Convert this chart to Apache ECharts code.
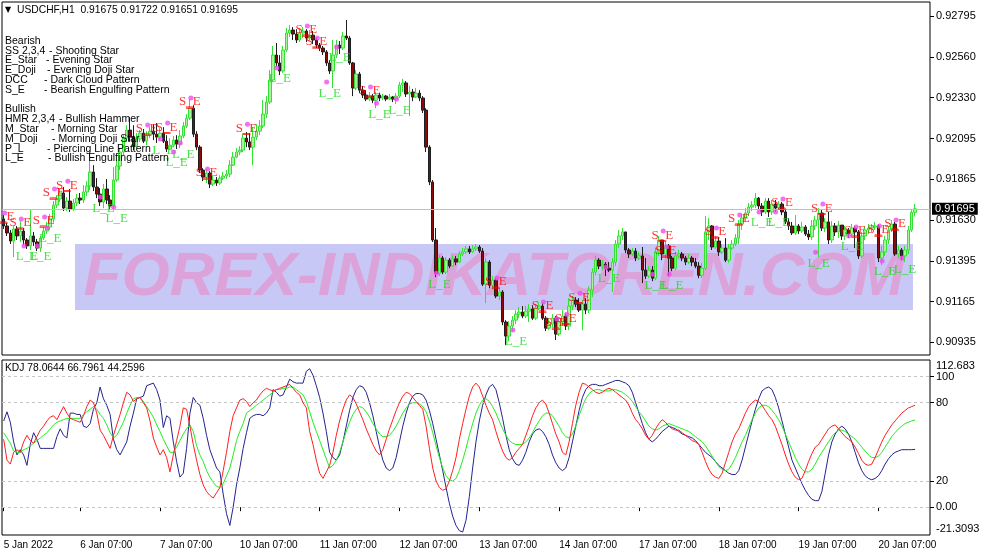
<!DOCTYPE html>
<html><head><meta charset="utf-8">
<script src="https://cdn.jsdelivr.net/npm/echarts@6/dist/echarts.min.js"></script>
<style>html,body{margin:0;padding:0;background:#fff}#c{width:987px;height:555px}</style>
</head><body><div id="c"></div>
<script>
// ---------- DATA ----------
const symbolName = 'USDCHF,H1';
const headerValues = [0.91675, 0.91722, 0.91651, 0.91695];
const lastPrice = 0.91695;

const opens = [0.91637,0.91597,0.91557,0.91511,0.91580,0.91540,0.91568,0.91517,0.91483,0.91540,
0.91506,0.91471,0.91528,0.91568,0.91591,0.91637,0.91716,0.91751,0.91785,0.91699,
0.91739,0.91694,0.91728,0.91756,0.91745,0.91791,0.91825,0.91905,0.91819,0.91779,
0.91734,0.91808,0.91745,0.91711,0.91859,0.91939,0.92019,0.92098,0.92144,0.92104,
0.92053,0.92093,0.92127,0.92081,0.92115,0.92138,0.92121,0.92104,0.92127,0.92081,
0.92036,0.92058,0.92087,0.92064,0.92110,0.92167,0.92212,0.92269,0.92121,0.92047,
0.91916,0.91876,0.91899,0.91836,0.91859,0.91842,0.91870,0.91882,0.91893,0.91944,
0.91990,0.92019,0.92030,0.92098,0.92076,0.92047,0.92104,0.92138,0.92167,0.92235,
0.92304,0.92430,0.92572,0.92527,0.92481,0.92601,0.92698,0.92715,0.92692,0.92658,
0.92698,0.92709,0.92669,0.92686,0.92658,0.92629,0.92612,0.92590,0.92527,0.92481,
0.92572,0.92629,0.92612,0.92681,0.92669,0.92527,0.92384,0.92464,0.92372,0.92344,
0.92321,0.92338,0.92315,0.92344,0.92327,0.92338,0.92321,0.92333,0.92321,0.92338,
0.92401,0.92413,0.92350,0.92361,0.92333,0.92355,0.92327,0.92258,0.92047,0.91848,
0.91517,0.91328,0.91414,0.91334,0.91402,0.91368,0.91409,0.91391,0.91437,0.91449,
0.91466,0.91449,0.91466,0.91477,0.91454,0.91265,0.91391,0.91259,0.91288,0.91197,
0.91220,0.91049,0.90969,0.91026,0.91060,0.91094,0.91106,0.91083,0.91111,0.91123,
0.91071,0.91128,0.91140,0.91071,0.91014,0.91037,0.91071,0.90980,0.91049,0.91083,
0.91026,0.91140,0.91174,0.91151,0.91117,0.91151,0.91117,0.91231,0.91334,0.91402,
0.91368,0.91379,0.91356,0.91345,0.91391,0.91494,0.91540,0.91563,0.91460,0.91437,
0.91454,0.91414,0.91426,0.91345,0.91311,0.91345,0.91299,0.91449,0.91517,0.91437,
0.91483,0.91414,0.91356,0.91426,0.91437,0.91414,0.91391,0.91414,0.91391,0.91368,
0.91316,0.91356,0.91563,0.91597,0.91477,0.91511,0.91449,0.91471,0.91402,0.91471,
0.91494,0.91528,0.91608,0.91642,0.91671,0.91705,0.91716,0.91756,0.91711,0.91677,
0.91739,0.91677,0.91722,0.91699,0.91722,0.91677,0.91620,0.91597,0.91557,0.91597,
0.91568,0.91591,0.91551,0.91534,0.91597,0.91631,0.91671,0.91585,0.91620,0.91517,
0.91597,0.91563,0.91602,0.91540,0.91574,0.91551,0.91585,0.91563,0.91426,0.91540,
0.91574,0.91585,0.91591,0.91597,0.91414,0.91449,0.91517,0.91574,0.91608,0.91437,
0.91460,0.91426,0.91460,0.91574,0.91675];

const closes = [0.91597,0.91557,0.91511,0.91580,0.91540,0.91568,0.91517,0.91483,0.91540,0.91506,
0.91471,0.91528,0.91568,0.91591,0.91637,0.91716,0.91751,0.91785,0.91699,0.91739,
0.91694,0.91728,0.91756,0.91745,0.91791,0.91825,0.91905,0.91819,0.91779,0.91734,
0.91808,0.91745,0.91711,0.91859,0.91939,0.92019,0.92098,0.92144,0.92104,0.92053,
0.92093,0.92127,0.92081,0.92115,0.92138,0.92121,0.92104,0.92127,0.92081,0.92036,
0.92058,0.92087,0.92064,0.92110,0.92167,0.92212,0.92269,0.92121,0.92047,0.91916,
0.91876,0.91899,0.91836,0.91859,0.91842,0.91870,0.91882,0.91893,0.91944,0.91990,
0.92019,0.92030,0.92098,0.92076,0.92047,0.92104,0.92138,0.92167,0.92235,0.92304,
0.92430,0.92572,0.92527,0.92481,0.92601,0.92698,0.92715,0.92692,0.92658,0.92698,
0.92709,0.92669,0.92686,0.92658,0.92629,0.92612,0.92590,0.92527,0.92481,0.92572,
0.92629,0.92612,0.92681,0.92669,0.92527,0.92384,0.92464,0.92372,0.92344,0.92321,
0.92338,0.92315,0.92344,0.92327,0.92338,0.92321,0.92333,0.92321,0.92338,0.92401,
0.92413,0.92350,0.92361,0.92333,0.92355,0.92327,0.92258,0.92047,0.91848,0.91517,
0.91328,0.91414,0.91334,0.91402,0.91368,0.91409,0.91391,0.91437,0.91449,0.91466,
0.91449,0.91466,0.91477,0.91454,0.91265,0.91391,0.91259,0.91288,0.91197,0.91220,
0.91049,0.90969,0.91026,0.91060,0.91094,0.91106,0.91083,0.91111,0.91123,0.91071,
0.91128,0.91140,0.91071,0.91014,0.91037,0.91071,0.90980,0.91049,0.91083,0.91026,
0.91140,0.91174,0.91151,0.91117,0.91151,0.91117,0.91231,0.91334,0.91402,0.91368,
0.91379,0.91356,0.91345,0.91391,0.91494,0.91540,0.91563,0.91460,0.91437,0.91454,
0.91414,0.91426,0.91345,0.91311,0.91345,0.91299,0.91449,0.91517,0.91437,0.91483,
0.91414,0.91356,0.91426,0.91437,0.91414,0.91391,0.91414,0.91391,0.91368,0.91316,
0.91356,0.91563,0.91597,0.91477,0.91511,0.91449,0.91471,0.91402,0.91471,0.91494,
0.91528,0.91608,0.91642,0.91671,0.91705,0.91716,0.91756,0.91711,0.91677,0.91739,
0.91677,0.91722,0.91699,0.91722,0.91677,0.91620,0.91597,0.91557,0.91597,0.91568,
0.91591,0.91551,0.91534,0.91597,0.91631,0.91671,0.91585,0.91620,0.91517,0.91597,
0.91563,0.91602,0.91540,0.91574,0.91551,0.91585,0.91563,0.91426,0.91540,0.91574,
0.91585,0.91591,0.91597,0.91414,0.91449,0.91517,0.91574,0.91608,0.91437,0.91460,
0.91426,0.91460,0.91574,0.91675,0.91695];

const highs = [0.91659,0.91614,0.91574,0.91597,0.91597,0.91625,0.91585,0.91528,0.91688,0.91563,
0.91523,0.91540,0.91591,0.91620,0.91665,0.91739,0.91773,0.91808,0.91819,0.91762,
0.91808,0.91751,0.91779,0.91785,0.91830,0.91853,0.92030,0.91944,0.91870,0.91813,
0.91836,0.91865,0.91773,0.91933,0.91973,0.92041,0.92115,0.92172,0.92218,0.92172,
0.92127,0.92144,0.92150,0.92138,0.92161,0.92178,0.92184,0.92155,0.92161,0.92115,
0.92098,0.92110,0.92115,0.92144,0.92190,0.92235,0.92321,0.92286,0.92138,0.92058,
0.91927,0.91922,0.91910,0.91882,0.91876,0.91887,0.91905,0.91916,0.91973,0.92019,
0.92041,0.92053,0.92121,0.92133,0.92127,0.92161,0.92178,0.92201,0.92315,0.92338,
0.92487,0.92624,0.92641,0.92572,0.92624,0.92726,0.92743,0.92732,0.92720,0.92726,
0.92732,0.92720,0.92715,0.92709,0.92669,0.92641,0.92624,0.92601,0.92544,0.92658,
0.92658,0.92652,0.92704,0.92772,0.92681,0.92533,0.92487,0.92476,0.92396,0.92372,
0.92361,0.92350,0.92361,0.92355,0.92350,0.92344,0.92350,0.92338,0.92355,0.92419,
0.92436,0.92424,0.92396,0.92379,0.92384,0.92372,0.92338,0.92269,0.92058,0.91859,
0.91585,0.91431,0.91426,0.91420,0.91414,0.91431,0.91426,0.91454,0.91471,0.91483,
0.91483,0.91488,0.91494,0.91488,0.91471,0.91414,0.91402,0.91311,0.91299,0.91242,
0.91231,0.91060,0.91054,0.91083,0.91117,0.91134,0.91140,0.91140,0.91151,0.91145,
0.91151,0.91163,0.91157,0.91083,0.91071,0.91094,0.91083,0.91077,0.91117,0.91100,
0.91185,0.91197,0.91191,0.91185,0.91174,0.91185,0.91254,0.91356,0.91426,0.91414,
0.91402,0.91391,0.91391,0.91414,0.91517,0.91574,0.91585,0.91563,0.91471,0.91471,
0.91471,0.91449,0.91477,0.91414,0.91368,0.91368,0.91471,0.91540,0.91517,0.91506,
0.91494,0.91426,0.91449,0.91460,0.91449,0.91426,0.91437,0.91426,0.91414,0.91391,
0.91385,0.91654,0.91642,0.91602,0.91540,0.91534,0.91494,0.91528,0.91494,0.91517,
0.91551,0.91631,0.91665,0.91699,0.91728,0.91739,0.91785,0.91762,0.91728,0.91756,
0.91756,0.91745,0.91745,0.91739,0.91734,0.91688,0.91642,0.91620,0.91659,0.91608,
0.91620,0.91602,0.91574,0.91631,0.91654,0.91699,0.91688,0.91642,0.91677,0.91625,
0.91614,0.91625,0.91602,0.91597,0.91585,0.91608,0.91597,0.91574,0.91563,0.91597,
0.91608,0.91608,0.91620,0.91608,0.91483,0.91540,0.91597,0.91631,0.91620,0.91483,
0.91471,0.91483,0.91597,0.91688,0.91722];

const lows = [0.91580,0.91540,0.91494,0.91420,0.91517,0.91506,0.91488,0.91466,0.91460,0.91483,
0.91454,0.91449,0.91517,0.91551,0.91574,0.91620,0.91699,0.91734,0.91682,0.91682,
0.91677,0.91682,0.91711,0.91722,0.91728,0.91768,0.91802,0.91796,0.91756,0.91711,
0.91699,0.91722,0.91688,0.91688,0.91848,0.91916,0.92001,0.92076,0.92081,0.92030,
0.92041,0.92076,0.92070,0.92058,0.92098,0.92087,0.92070,0.92087,0.92070,0.92019,
0.92030,0.92047,0.92036,0.92041,0.92098,0.92155,0.92201,0.92104,0.92030,0.91899,
0.91853,0.91842,0.91813,0.91825,0.91825,0.91830,0.91859,0.91865,0.91876,0.91939,
0.91984,0.92001,0.92019,0.92047,0.92030,0.91944,0.92087,0.92115,0.92155,0.92212,
0.92292,0.92419,0.92504,0.92458,0.92470,0.92590,0.92675,0.92658,0.92641,0.92647,
0.92669,0.92647,0.92658,0.92635,0.92612,0.92595,0.92572,0.92510,0.92464,0.92384,
0.92555,0.92578,0.92601,0.92658,0.92516,0.92338,0.92372,0.92355,0.92327,0.92309,
0.92309,0.92298,0.92269,0.92309,0.92315,0.92309,0.92315,0.92304,0.92292,0.92327,
0.92361,0.92333,0.92224,0.92309,0.92327,0.92309,0.92241,0.92019,0.91830,0.91506,
0.91305,0.91311,0.91322,0.91322,0.91356,0.91368,0.91373,0.91385,0.91426,0.91437,
0.91437,0.91443,0.91454,0.91443,0.91254,0.91157,0.91242,0.91231,0.91185,0.91174,
0.91031,0.90917,0.90940,0.90997,0.91037,0.91071,0.91071,0.91071,0.91049,0.91060,
0.91060,0.91117,0.91060,0.90997,0.91003,0.91020,0.90946,0.90969,0.91026,0.91003,
0.91003,0.91117,0.91134,0.91106,0.91003,0.91094,0.91100,0.91191,0.91316,0.91351,
0.91345,0.91311,0.91334,0.91220,0.91368,0.91471,0.91517,0.91443,0.91414,0.91426,
0.91396,0.91402,0.91271,0.91294,0.91299,0.91282,0.91288,0.91426,0.91402,0.91414,
0.91311,0.91339,0.91345,0.91414,0.91396,0.91373,0.91379,0.91368,0.91356,0.91299,
0.91299,0.91345,0.91517,0.91460,0.91466,0.91426,0.91437,0.91391,0.91385,0.91460,
0.91483,0.91494,0.91574,0.91620,0.91654,0.91682,0.91699,0.91694,0.91654,0.91665,
0.91648,0.91659,0.91677,0.91688,0.91659,0.91608,0.91574,0.91545,0.91545,0.91551,
0.91557,0.91540,0.91517,0.91517,0.91574,0.91420,0.91568,0.91563,0.91494,0.91500,
0.91540,0.91528,0.91517,0.91517,0.91528,0.91540,0.91471,0.91409,0.91414,0.91517,
0.91551,0.91563,0.91574,0.91391,0.91373,0.91426,0.91494,0.91563,0.91426,0.91414,
0.91402,0.91391,0.91437,0.91563,0.91651];

// KDJ indicator lines (red, green, blue)
const kdjK = [52,36,33,42,44,42,50,55,51,49,54,59,62,66,69,70,67,72,77,72,
68,67,66,65,70,77,82,80,72,59,55,50,45,55,63,71,80,88,86,81,
83,84,80,76,66,53,46,40,44,38,27,40,51,62,76,75,62,48,36,25,
17,12,9,7,11,15,28,42,58,70,76,82,83,81,77,80,82,86,89,91,
90,89,90,91,92,93,94,91,88,86,80,76,58,48,36,26,22,27,32,
42,55,66,75,82,86,84,79,73,67,
60,54,48,43,40,44,52,60,67,74,
80,85,88,87,84,81,78,75,62,45,
30,20,15,13,14,20,28,38,52,64,
75,85,92,95,92,85,78,72,67,58,
50,43,38,36,38,42,45,48,55,62,
70,76,80,82,79,72,64,56,50,42,
40,50,64,78,88,95,94,92,90,88,
87,88,90,91,90,88,86,84,82,78,
72,67,64,60,55,52,55,60,64,67,
65,62,60,59,59,57,55,53,51,50,
48,42,35,29,25,23,22,26,34,42,
50,56,60,66,72,77,80,82,81,78,
74,70,67,62,55,48,40,33,27,23,
21,22,28,35,41,46,48,52,56,60,
62,63,60,57,54,52,50,46,41,36,
33,32,33,38,44,50,55,59,63,66,
69,72,74,76,77,78.0644];
const kdjD = [57,53,49,43,42,42,44,45,47,49,51,53,55,57,60,63,65,66,67,68,
68,68,68,68,71,73,75,77,75,71,68,63,57,53,55,60,65,72,78,83,
84,84,81,77,73,69,63,58,52,47,42,42,46,51,56,60,63,58,47,40,
35,28,23,19,16,15,18,24,30,40,51,58,64,72,74,76,78,80,82,84,
86,88,90,90,91,91,92,92,90,88,86,81,73,65,58,51,44,37,30,
32,36,42,50,58,65,71,75,77,76,
73,69,64,60,56,54,54,55,58,62,
67,72,76,79,80,80,79,77,73,66,
57,47,38,30,24,21,20,22,28,36,
45,55,64,72,78,82,83,81,77,72,
66,60,55,51,49,48,48,48,50,53,
57,62,66,70,72,72,70,66,62,57,
54,53,56,62,70,77,83,87,89,90,
90,89,89,89,90,90,89,88,86,84,
81,77,73,70,66,62,60,59,60,62,
63,64,63,62,61,60,59,58,56,54,
52,50,47,43,39,35,31,29,28,29,
33,38,44,50,55,61,67,72,76,78,
78,77,74,71,67,62,56,50,44,38,
33,29,27,27,29,33,38,42,46,50,
54,57,59,59,58,56,54,52,49,46,
43,40,38,38,39,42,46,50,54,57,
60,62,64,65,66,66.7961];
const kdjJ = [66,73,65,50,40,44,40,32,48,57,52,45,45,45,45,45,54,60,55,53,
72,72,71,71,62,61,64,75,80,92,83,78,71,52,44,40,45,50,62,72,
83,84,85,93,94,95,90,82,61,70,68,50,35,23,26,45,72,84,80,78,
68,55,44,37,30,27,10,-5,-14,0,17,30,45,57,68,70,71,71,70,72,
76,90,88,85,86,92,98,96,95,95,95,104,106,101,93,84,72,58,42,
38,36,40,50,62,74,84,90,93,92,
88,80,70,58,46,36,30,28,30,38,
50,62,72,80,85,87,87,86,82,74,
64,52,40,28,15,3,-7,-14,-18,-19,
-10,8,30,50,66,78,86,92,94,90,
80,68,55,44,37,33,32,36,42,50,
56,59,60,58,54,48,40,34,30,28,
30,38,50,62,74,84,90,93,94,94,
93,93,94,95,96,97,97,96,95,93,
88,80,72,64,57,52,50,52,55,58,
60,62,61,60,58,56,55,54,53,51,
48,45,42,40,38,35,32,30,28,26,
25,25,28,36,46,56,66,75,83,89,
91,92,90,84,76,66,56,46,36,30,
24,18,13,9,6,5,5,12,26,40,
50,56,60,62,60,56,50,42,34,28,
24,22,21,22,24,28,33,37,40,42,
43,44,44,44,44,44.2596];
const kdjHeader = ['78.0644', '66.7961', '44.2596'];

// pattern markers: [bar index, price]
const bearishMarks = [[0,0.91648],[5,0.91614],[12,0.91625],[15,0.91785],[19,0.91830],[43,0.92150],[49,0.92161],[56,0.92304],[61,0.91899],[73,0.92155],[91,0.92715],[94,0.92647],[110,0.92367],[148,0.91277],[162,0.91140],[166,0.91043],[169,0.91071],[173,0.91191],[198,0.91545],[199,0.91454],[214,0.91563],[221,0.91637],[234,0.91728],[246,0.91699],[256,0.91568],[263,0.91574],[268,0.91608]];
const bullishMarks = [[7,0.91420],[11,0.91420],[14,0.91523],[30,0.91699],[34,0.91642],[48,0.92030],[52,0.91956],[54,0.92007],[83,0.92436],[98,0.92355],[101,0.92555],[113,0.92235],[119,0.92258],[131,0.91265],[154,0.90940],[182,0.91299],[196,0.91259],[201,0.91259],[228,0.91614],[233,0.91614],[245,0.91385],[255,0.91477],[265,0.91334],[271,0.91351]];

// axes
const priceTicks = [0.92795,0.92560,0.92330,0.92095,0.91865,0.91630,0.91395,0.91165,0.90935];
const priceMin = 0.908608, priceMax = 0.928749;
const kdjLevels = [100, 80, 20, 0];
const kdjMin = -21.3093, kdjMax = 112.683;
const timeTickBars = [0,23,47,71,95,119,143,167,191,215,239,263];
const timeTickLabels = ['5 Jan 2022','6 Jan 07:00','7 Jan 07:00','10 Jan 07:00','11 Jan 07:00','12 Jan 07:00','13 Jan 07:00','14 Jan 07:00','17 Jan 07:00','18 Jan 07:00','19 Jan 07:00','20 Jan 07:00'];
const totalSlots = 279;

const legendNames = ['Bearish','SS 2,3,4','E_Star','E_Doji','DCC','S_E','','Bullish','HMR 2,3,4','M_Star','M_Doji','P_L','L_E'];
const legendDescs = ['','- Shooting Star','- Evening Star','- Evening Doji Star','- Dark Cloud Pattern','- Bearish Engulfing Pattern','','','- Bullish Hammer','- Morning Star','- Morning Doji Star','- Piercing Line Pattern','- Bullish Engulfing Pattern'];
const legendDescX = [0,49,46,47,44,44,0,0,59,51,52,47,48];

// ---------- BUILD ----------
const FONT = '"Liberation Sans", Arial, sans-serif';
const cats = [];
for (let i = 0; i < totalSlots; i++) cats.push(String(i));
const candleData = opens.map((o, i) => [o, closes[i], lows[i], highs[i]]);
const tickMap = {};
timeTickBars.forEach((b, i) => tickMap[b] = timeTickLabels[i]);
const isTick = (i) => tickMap[i] !== undefined;

const graphics = [
  {id:'wmRect', type:'rect', z:1, silent:true, shape:{x:75,y:244,width:838,height:66}, style:{fill:'#c8c8f6'}},
  {id:'wmText', type:'text', z:1, silent:true, x:494, y:278, style:{text:'FOREX-INDIKATOREN.COM', font:'italic bold 62px "Liberation Sans", Arial', fill:'#dba3d9', align:'center', verticalAlign:'middle'}},
  {id:'tri', type:'text', z:20, x:5, y:10, style:{text:'\u25BC', font:'8px "DejaVu Sans"', fill:'#000', verticalAlign:'middle'}},
  {id:'hdr', type:'text', z:20, x:17, y:10, style:{text:symbolName + '  ' + headerValues.map(v => v.toFixed(5)).join(' '), font:'10.3px ' + FONT, fill:'#000', verticalAlign:'middle'}},
  {id:'kdjHdr', type:'text', z:20, x:5, y:368, style:{text:'KDJ ' + kdjHeader.join(' '), font:'10.3px ' + FONT, fill:'#000', verticalAlign:'middle'}}
];
legendNames.forEach((n, k) => {
  const y = 41 + k * 9.8;
  if (n) graphics.push({id:'ln' + k, type:'text', z:20, x:5, y:y, style:{text:n, font:'10.5px ' + FONT, fill:'#000', verticalAlign:'middle'}});
  if (legendDescs[k]) graphics.push({id:'ld' + k, type:'text', z:20, x:legendDescX[k], y:y, style:{text:legendDescs[k], font:'10.5px ' + FONT, fill:'#000', verticalAlign:'middle'}});
});

const near = (a, b) => Math.abs(a - b) < 1e-6;
const option = {
  animation: false,
  backgroundColor: '#fff',
  grid: [
    {left:2, width:928, top:2, height:353, show:true, borderColor:'#000', borderWidth:1, backgroundColor:'transparent'},
    {left:2, width:928, top:360, height:175, show:true, borderColor:'#000', borderWidth:1, backgroundColor:'transparent'}
  ],
  xAxis: [
    {type:'category', gridIndex:0, data:cats, boundaryGap:true, show:false},
    {type:'category', gridIndex:1, data:cats, boundaryGap:true,
      axisLine:{show:false},
      axisTick:{show:true, alignWithLabel:true, interval:(i) => isTick(i), length:4, lineStyle:{color:'#000'}},
      axisLabel:{show:true, interval:(i) => isTick(i), formatter:(v, i) => tickMap[i] || '', align:'left', fontSize:10, fontFamily:FONT, color:'#000', margin:5},
      splitLine:{show:false}}
  ],
  yAxis: [
    {type:'value', gridIndex:0, position:'right', min:priceMin, max:priceMax,
      splitLine:{show:false}, axisLine:{show:false},
      axisTick:{show:true, length:4, customValues:priceTicks, lineStyle:{color:'#000'}},
      axisLabel:{customValues:priceTicks, formatter:(v) => v.toFixed(5), fontSize:11, fontFamily:FONT, color:'#000', margin:6}},
    {type:'value', gridIndex:1, position:'right', min:kdjMin, max:kdjMax,
      splitLine:{show:false}, axisLine:{show:false},
      axisTick:{show:true, length:4, customValues:kdjLevels, lineStyle:{color:'#000'}},
      axisLabel:{customValues:kdjLevels.concat([kdjMin]),
        formatter:(v) => {
          if (near(v, kdjMin)) return '{b|' + kdjMin + '}';
          if (near(v, 0)) return '0.00';
          return String(Math.round(v));
        },
        rich:{b:{fontSize:11, fontFamily:FONT, color:'#000', padding:[0,0,13,0]}},
        fontSize:11, fontFamily:FONT, color:'#000', margin:6}}
  ],
  graphic: graphics,
  series: [
    {type:'candlestick', xAxisIndex:0, yAxisIndex:0, data:candleData, barWidth:3, z:3,
      itemStyle:{color:'#a8f49c', color0:'#8a0a0a', borderColor:'#33e033', borderColor0:'#1e1e1e', borderWidth:1},
      markLine:{symbol:'none', silent:true, animation:false, precision:5,
        lineStyle:{color:'#c0c0c0', width:1, type:'solid'},
        label:{show:true, position:'end', distance:2, formatter:() => lastPrice.toFixed(5), backgroundColor:'#000', color:'#fff', fontSize:11, fontFamily:FONT, padding:[1,3,0,3]},
        data:[{yAxis:lastPrice}]}},
    {type:'scatter', xAxisIndex:0, yAxisIndex:0, data:bearishMarks, z:6, silent:true,
      symbol:'rect', symbolSize:[8,1.5], symbolOffset:[0,6], itemStyle:{color:'#ff0000'}},
    {type:'scatter', xAxisIndex:0, yAxisIndex:0, data:bearishMarks, z:7, silent:true,
      symbolSize:1, itemStyle:{color:'rgba(0,0,0,0)'},
      label:{show:true, position:'inside', formatter:'S_E', color:'#ff0000', fontSize:13, fontFamily:'"Liberation Serif", serif'}},
    {type:'scatter', xAxisIndex:0, yAxisIndex:0, data:bearishMarks, z:8, silent:true,
      symbol:'circle', symbolSize:5, symbolOffset:[1,-4], itemStyle:{color:'#f04cf0'}},
    {type:'scatter', xAxisIndex:0, yAxisIndex:0, data:bullishMarks, z:7, silent:true,
      symbolSize:1, itemStyle:{color:'rgba(0,0,0,0)'},
      label:{show:true, position:'inside', formatter:'L_E', color:'#1ed81e', fontSize:13, fontFamily:'"Liberation Serif", serif'}},
    {type:'scatter', xAxisIndex:0, yAxisIndex:0, data:bullishMarks, z:8, silent:true,
      symbol:'circle', symbolSize:5, symbolOffset:[-3,-11], itemStyle:{color:'#f04cf0'}},
    {type:'line', xAxisIndex:1, yAxisIndex:1, data:kdjJ, symbol:'none', z:3,
      lineStyle:{color:'#23238f', width:1},
      markLine:{symbol:'none', silent:true, label:{show:false}, lineStyle:{color:'#c4c4c4', width:1, type:[3,3]},
        data:kdjLevels.map(v => ({yAxis:v}))}},
    {type:'line', xAxisIndex:1, yAxisIndex:1, data:kdjD, symbol:'none', z:4, lineStyle:{color:'#22ee22', width:1}},
    {type:'line', xAxisIndex:1, yAxisIndex:1, data:kdjK, symbol:'none', z:5, lineStyle:{color:'#ff2020', width:1}}
  ]
};
const chart = echarts.init(document.getElementById('c'), null, {renderer:'canvas'});
chart.setOption(option);
// top value label of the indicator scale, placed through the axis scale
const topY = chart.convertToPixel({yAxisIndex:1}, kdjMax);
chart.setOption({graphic:[{id:'kdjMaxLabel', type:'text', z:20, x:936, y:topY + 6,
  style:{text:String(kdjMax), font:'11px ' + FONT, fill:'#000', verticalAlign:'middle'}}]});
</script></body></html>
